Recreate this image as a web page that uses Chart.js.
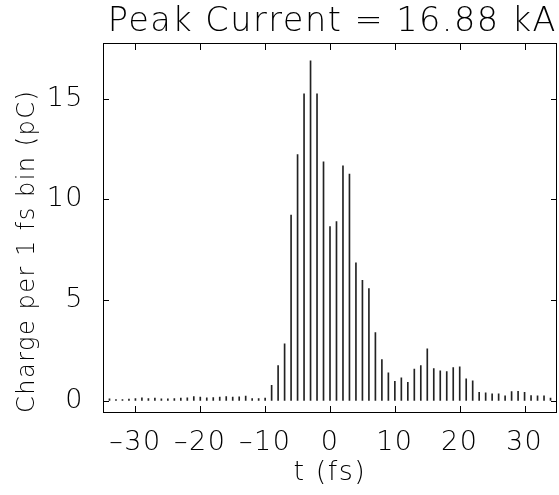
<!DOCTYPE html>
<html>
<head>
<meta charset="utf-8">
<script src="https://cdn.jsdelivr.net/npm/chart.js@4"></script>
<style>
  html, body { margin: 0; padding: 0; background: #fff; }
  #wrap { width: 559px; height: 495px; }
</style>
</head>
<body>
<div id="wrap"><canvas id="bunch"></canvas></div>
<script>
const times = [
  -34, -33, -32, -31, -30, -29, -28, -27, -26, -25, -24, -23, -22, -21, -20, -19, -18,
  -17, -16, -15, -14, -13, -12, -11, -10, -9, -8, -7, -6, -5, -4, -3, -2, -1,
  0, 1, 2, 3, 4, 5, 6, 7, 8, 9, 10, 11, 12, 13, 14, 15, 16,
  17, 18, 19, 20, 21, 22, 23, 24, 25, 26, 27, 28, 29, 30, 31, 32, 33, 34,
];
const charge = [
  0.08, 0.05, 0.05, 0.07, 0.10, 0.13, 0.10, 0.12, 0.08, 0.08, 0.10, 0.12, 0.13, 0.20, 0.17, 0.13, 0.15,
  0.17, 0.20, 0.17, 0.18, 0.22, 0.10, 0.10, 0.12, 0.75, 1.74, 2.82, 9.22, 12.22, 15.24, 16.88, 15.24, 11.87,
  8.64, 8.89, 11.67, 11.26, 6.85, 5.97, 5.57, 3.38, 2.04, 1.38, 0.96, 1.13, 0.91, 1.56, 1.74, 2.57, 1.59,
  1.48, 1.44, 1.64, 1.67, 1.08, 0.98, 0.41, 0.38, 0.33, 0.33, 0.23, 0.45, 0.46, 0.41, 0.25, 0.23, 0.23, 0.12,
];
const xTicks = [-30, -20, -10, 0, 10, 20, 30];
const yTicks = [0, 5, 10, 15];

const FONT = "'DejaVu Sans', sans-serif";

// thin wide lettering, a bit like the old plot fonts
const spacing = {
  id: "spacing",
  beforeLayout(chart) { chart.ctx.letterSpacing = "1.5px"; },
  beforeDraw(chart) { chart.ctx.letterSpacing = "1.5px"; },
};

// frame + ticks pointing inward on all four sides
const innerTicks = {
  id: "innerTicks",
  afterDraw(chart) {
    const ctx = chart.ctx;
    const a = chart.chartArea;
    const xs = chart.scales.x;
    const ys = chart.scales.y;
    const L = Math.round(a.left), R = Math.round(a.right) - 1;
    const T = Math.round(a.top), B = Math.round(a.bottom) - 1;
    const len = 7;
    ctx.save();
    ctx.fillStyle = "#000";
    ctx.fillRect(L, T, R - L + 1, 1);
    ctx.fillRect(L, B, R - L + 1, 1);
    ctx.fillRect(L, T, 1, B - T + 1);
    ctx.fillRect(R, T, 1, B - T + 1);
    for (const v of xTicks) {
      const px = Math.round(xs.getPixelForValue(v));
      ctx.fillRect(px, B - len + 1, 1, len);
      ctx.fillRect(px, T, 1, len);
    }
    for (const v of yTicks) {
      const py = Math.round(ys.getPixelForValue(v));
      ctx.fillRect(L, py, len - 1, 1);
      ctx.fillRect(R - len + 2, py, len - 1, 1);
    }
    ctx.restore();
  },
};

new Chart(document.getElementById("bunch"), {
  type: "bar",
  data: {
    datasets: [
      {
        data: times.map((t, i) => ({ x: t, y: charge[i] })),
        backgroundColor: "#222",
        borderWidth: 0,
        barThickness: 1,
      },
    ],
  },
  options: {
    responsive: true,
    maintainAspectRatio: false,
    animation: false,
    layout: { padding: { right: 2 } },
    plugins: {
      legend: { display: false },
      tooltip: { enabled: false },
      title: {
        display: true,
        text: "Peak Current = 16.88 kA",
        align: "end",
        color: "#000",
        font: { family: FONT, size: 33.5, weight: 200 },
        padding: { top: 2, bottom: 1 },
      },
    },
    scales: {
      x: {
        type: "linear",
        offset: false,
        min: -35,
        max: 35,
        afterBuildTicks: (s) => { s.ticks = xTicks.map((v) => ({ value: v })); },
        afterFit: (s) => { s.height = 82; },
        grid: { display: false },
        border: { display: false },
        ticks: {
          color: "#000",
          padding: 6,
          font: { family: FONT, size: 27, weight: 200 },
          callback: (v) => String(v).replace("-", "\u2013"),
        },
        title: {
          display: true,
          text: "t (fs)",
          color: "#000",
          font: { family: FONT, size: 27, weight: 200 },
          padding: { top: 0, bottom: 6 },
        },
      },
      y: {
        min: -0.62,
        max: 17.76,
        afterBuildTicks: (s) => { s.ticks = yTicks.map((v) => ({ value: v })); },
        afterFit: (s) => { s.width = 103; },
        grid: { display: false },
        border: { display: false },
        ticks: {
          color: "#000",
          padding: 11,
          font: { family: FONT, size: 27, weight: 200 },
        },
        title: {
          display: true,
          text: "Charge per 1 fs bin (pC)",
          align: "start",
          color: "#000",
          font: { family: FONT, size: 24, weight: 200 },
          padding: { top: 13, bottom: 0 },
        },
      },
    },
  },
  plugins: [spacing, innerTicks],
});
</script>
</body>
</html>
